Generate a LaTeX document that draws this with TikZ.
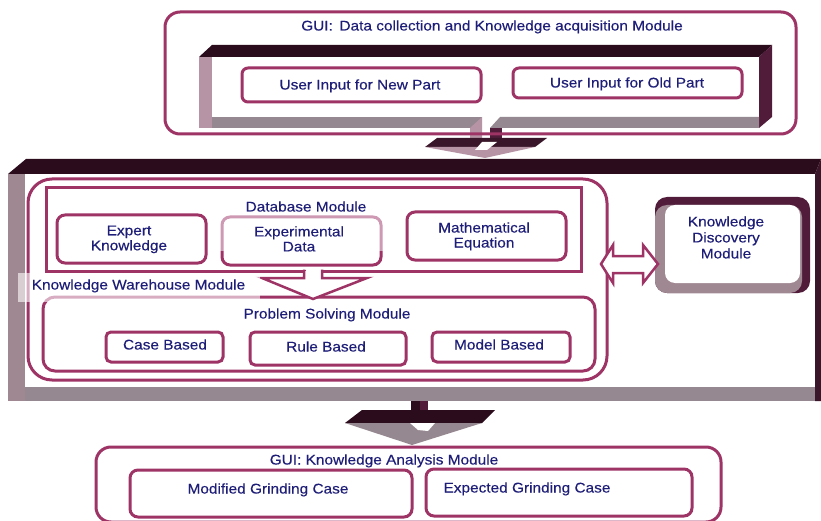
\documentclass[tikz,border=0pt]{standalone}
\usepackage{fontspec}
\setmainfont{Liberation Sans}[FakeStretch=1.1,FakeBold=0.3]
\definecolor{bd}{RGB}{158,52,102}
\definecolor{tx}{RGB}{30,30,120}
\definecolor{dk}{RGB}{42,12,28}
\definecolor{dkb}{RGB}{58,22,42}
\definecolor{dk2}{RGB}{80,28,58}
\definecolor{lg}{RGB}{160,136,146}
\definecolor{gb}{RGB}{150,136,144}
\definecolor{lp}{RGB}{182,148,166}
\tikzset{
  box/.style={draw=bd, line width=3pt, rounded corners=#1, inner sep=0pt},
  box/.default=7pt,
  sharpbox/.style={draw=bd, line width=3pt, inner sep=0pt},
  lbl/.style={text=tx, font=\fontsize{14}{15}\selectfont, inner sep=0pt, align=center},
  blockarrow/.style={draw=bd, line width=2.5pt, line join=miter},
}
\begin{document}
\begin{tikzpicture}[x=1pt,y=-1pt]
\useasboundingbox (0,0) rectangle (821,521);
\fill[white] (0,0) rectangle (821,521);

% ---------- top 3D frame ----------
\fill[dk]  (199,57) -- (212,45) -- (772,45) -- (759,57) -- cycle;
\fill[dk2] (759,57) -- (772,45) -- (772,117) -- (759,128) -- cycle;
\fill[lp]  (199,57) rectangle (212,128);
\fill[gb]  (212,117) rectangle (482,128);
\fill[gb]  (500,117) -- (759,117) -- (759,128) -- (490,128) -- cycle;
% 3D arrow down
\fill[lp]  (470,128) -- (482,117) -- (482,147) -- (470,147) -- cycle;
\fill[dk2] (490,128) rectangle (502,138);
\fill[dkb] (425,147) -- (437,138) -- (547,138) -- (535,147) -- cycle;
\fill[lp]  (425,147) -- (535,147) -- (485,158) -- cycle;
\fill[white] (482,142) -- (497,142) -- (487,150) -- (475,150) -- cycle;

\node[box=6pt, minimum width=239pt, minimum height=34pt] (newp) at (361.5,85) {};
\node[box=6pt, minimum width=229pt, minimum height=30pt] (oldp) at (627.5,83) {};
\node[lbl, anchor=base] (newpt) at (360,89.5) {User Input for New Part};
\node[lbl, anchor=base] (oldpt) at (627,87.5) {User Input for Old Part};

\node[box=15pt, minimum width=631pt, minimum height=122pt] (gui1) at (480.5,73) {};
\node[lbl, anchor=base] (gui1t) at (492,30.5) {GUI:\, Data collection and Knowledge acquisition Module};

% ---------- main 3D frame ----------
\fill[dk]  (8,174) -- (26,159) -- (821,159) -- (815,174) -- cycle;
\fill[dkb] (815,174) -- (821,159) -- (821,401) -- (815,401) -- cycle;
\fill[lg]  (8,174) rectangle (25,401);
\fill[gb]  (25,387) rectangle (815,401);

% knowledge warehouse
\node[box=24pt, minimum width=579pt, minimum height=201pt] (kw) at (317.5,279.5) {};
\node[sharpbox, minimum width=535pt, minimum height=83pt] (db) at (313.5,229.5) {};
\node[box=8pt, minimum width=149pt, minimum height=48pt] (ek) at (131.5,239) {};
\node[box=8pt, minimum width=159pt, minimum height=48pt] (ed) at (301.5,241) {};
\node[box=8pt, minimum width=159pt, minimum height=48pt] (me) at (486.5,236) {};
\fill[white, opacity=0.5] (213,201) rectangle (391,251);
\node[lbl, anchor=base] (dbt) at (306,211.5) {Database Module};
\node[lbl] (ekt) at (129,239.4) {Expert\\Knowledge};
\node[lbl] (edt) at (299,238.9) {Experimental\\Data};
\node[lbl] (met) at (484,236.4) {Mathematical\\Equation};

\node[box=12pt, minimum width=552pt, minimum height=74pt] (ps) at (319,334) {};
\node[box=5pt, minimum width=117pt, minimum height=30pt] (cb) at (164.5,347) {};
\node[box=5pt, minimum width=156pt, minimum height=33pt] (rb) at (328,348.5) {};
\node[box=5pt, minimum width=138pt, minimum height=30pt] (mb) at (501,347) {};
\node[lbl, anchor=base] (pst) at (327,318.5) {Problem Solving Module};
\node[lbl, anchor=base] (cbt) at (165,349.5) {Case Based};
\node[lbl, anchor=base] (rbt) at (326,351.5) {Rule Based};
\node[lbl, anchor=base] (mbt) at (499,349.5) {Model Based};

% hollow arrow database -> problem solving
\fill[white] (305.5,268) rectangle (320.5,279);
\fill[white] (304,271) -- (304,278) -- (262,278) -- (313,299) -- (367,278) -- (322,278) -- (322,271) -- cycle;
\draw[blockarrow] (304,269.5) -- (304,278) -- (262,278) -- (313,299) -- (367,278) -- (322,278) -- (322,269.5);

\fill[white, opacity=0.6] (18,273) rectangle (260,302);
\node[lbl, anchor=base] (kwt) at (138.5,289.5) {Knowledge Warehouse Module};

% knowledge discovery
\fill[dk2, rounded corners=12pt] (655,197) rectangle (810,293);
\fill[lg, rounded corners=12pt] (655,205) rectangle (802,293);
\node[fill=white, rounded corners=10pt, minimum width=135pt, minimum height=78pt, inner sep=0pt] (kd) at (732.5,244) {};
\node[lbl, font=\fontsize{14}{16}\selectfont] (kdt) at (726,237.4) {Knowledge\\Discovery\\Module};

% double arrow
\draw[blockarrow, fill=white] (601,264) -- (613,245) -- (613,256) -- (643,256) -- (643,245) -- (658,264) -- (643,283) -- (643,273) -- (613,273) -- (613,283) -- cycle;

% ---------- bottom 3D arrow ----------
\fill[dk]  (411,401) rectangle (420,413);
\fill[dk2] (420,401) rectangle (428,413);
\fill[dk]  (345,423) -- (362,410) -- (495,410) -- (482,423) -- cycle;
\fill[gb]  (345,423) -- (482,423) -- (412,445) -- cycle;
\fill[white] (410,423) -- (435,423) -- (428,431) -- (418,430) -- cycle;

% ---------- bottom GUI ----------
\node[box=15pt, minimum width=625pt, minimum height=75pt] (gui2) at (408.5,484.5) {};
\node[lbl, anchor=base] (gui2t) at (384,464.5) {GUI: Knowledge Analysis Module};
\node[box=8pt, minimum width=282pt, minimum height=47pt] (mg) at (271,493.5) {};
\node[box=8pt, minimum width=266pt, minimum height=47pt] (eg) at (559,492.5) {};
\node[lbl, anchor=base] (mgt) at (268,493.5) {Modified Grinding Case};
\node[lbl, anchor=base] (egt) at (527,492.5) {Expected Grinding Case};
\end{tikzpicture}
\end{document}
